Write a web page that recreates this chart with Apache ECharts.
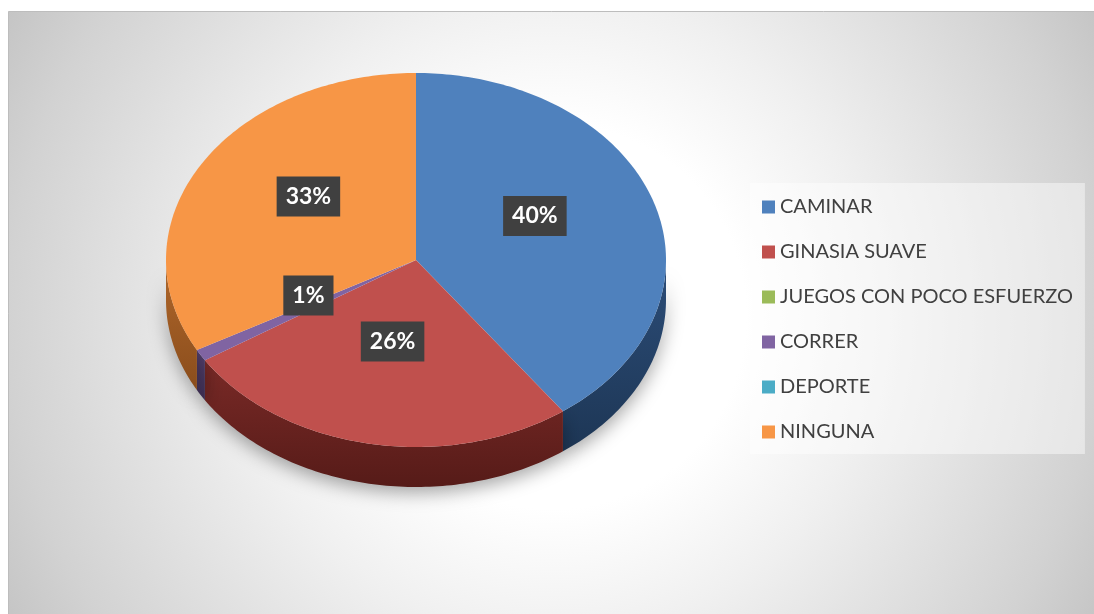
<!DOCTYPE html>
<html>
<head>
<meta charset="utf-8">
<script src="https://cdn.jsdelivr.net/npm/echarts@6/dist/echarts.min.js"></script>
<style>
  html, body { margin: 0; padding: 0; background: #fff; }
  #chart { width: 1094px; height: 614px; }
</style>
</head>
<body>
<div id="chart"></div>
<script>
var categories = ['CAMINAR', 'GINASIA SUAVE', 'JUEGOS CON POCO ESFUERZO', 'CORRER', 'DEPORTE', 'NINGUNA'];
var values = [40, 26, 0, 1, 0, 33];
var labels = ['40%', '26%', '0%', '1%', '0%', '33%'];
var colors = ['#4F81BD', '#C0504D', '#9BBB59', '#8064A2', '#4BACC6', '#F79646'];
var sideColors = [['#2c4d78', '#1d3655'], ['#7a2a27', '#561b18'], ['#5c7233', '#41521f'],
                  ['#54406e', '#3b2c4f'], ['#2e6e80', '#1f4f5c'], ['#b0672b', '#8a4d1c']];

// pie geometry (3d look)
var cx = 416, cy = 260, rx = 250, ry = 187, depth = 40;

var total = 0;
for (var i = 0; i < values.length; i++) total += values[i];
var starts = [];
var acc = 0;
for (var i = 0; i < values.length; i++) {
    starts.push(acc / total * 360);
    acc += values[i];
}

function pt(deg, dy) {
    var a = deg * Math.PI / 180;
    return [cx + rx * Math.sin(a), cy - ry * Math.cos(a) + (dy || 0)];
}

function arc(a1, a2, dy) {
    var pts = [];
    var n = Math.max(2, Math.ceil((a2 - a1) / 1));
    for (var k = 0; k <= n; k++) {
        pts.push(pt(a1 + (a2 - a1) * k / n, dy));
    }
    return pts;
}

function makeRender(idx) {
    return function (params, api) {
        var v = values[idx];
        if (!v) return { type: 'group', children: [] };
        var a1 = starts[idx];
        var a2 = a1 + v / total * 360;
        var children = [];
        // side wall, only the front half shows
        var s1 = Math.max(a1, 90), s2 = Math.min(a2, 270);
        if (s2 > s1) {
            var top = arc(s1, s2, 0);
            var bottom = arc(s1, s2, depth).reverse();
            children.push({
                type: 'polygon',
                z2: 0,
                shape: { points: top.concat(bottom) },
                style: {
                    fill: new echarts.graphic.LinearGradient(0, 0, 0, 1, [
                        { offset: 0, color: sideColors[idx][0] },
                        { offset: 1, color: sideColors[idx][1] }
                    ]),
                    shadowBlur: 18,
                    shadowColor: 'rgba(0,0,0,0.35)',
                    shadowOffsetY: 6
                }
            });
        }
        children.push({
            type: 'polygon',
            z2: 1,
            shape: { points: [[cx, cy]].concat(arc(a1, a2, 0)) },
            style: { fill: colors[idx] }
        });
        var m = (a1 + a2) / 2 * Math.PI / 180;
        children.push({
            type: 'text',
            z2: 10,
            x: cx + rx * 0.5 * Math.sin(m),
            y: cy - 14 - ry * 0.52 * Math.cos(m),
            style: {
                text: labels[idx],
                fill: '#ffffff',
                font: 'bold 23px Lato, "Open Sans", sans-serif',
                align: 'center',
                verticalAlign: 'middle',
                backgroundColor: '#404040',
                padding: [9, 9, 8, 9],
                boxShadowBlur: 5,
                boxShadowColor: 'rgba(0,0,0,0.45)',
                boxShadowOffsetX: 4,
                boxShadowOffsetY: 4
            }
        });
        return { type: 'group', children: children };
    };
}

var series = [];
for (var i = 0; i < categories.length; i++) {
    series.push({
        name: categories[i],
        type: 'custom',
        coordinateSystem: 'none',
        itemStyle: { color: colors[i] },
        renderItem: makeRender(i),
        data: [values[i]]
    });
}

var myChart = echarts.init(document.getElementById('chart'));
var option = {
    animation: false,
    graphic: [{
        type: 'rect',
        z: -10,
        silent: true,
        shape: { x: 8.5, y: 11.5, width: 1090, height: 610 },
        style: {
            fill: new echarts.graphic.RadialGradient(0.5, 0.5, 1.05, [
                { offset: 0, color: '#ffffff' },
                { offset: 0.3, color: '#ffffff' },
                { offset: 0.5, color: '#f0f0f0' },
                { offset: 0.85, color: '#d2d2d2' },
                { offset: 1, color: '#c2c2c2' }
            ]),
            stroke: '#bdbdbd',
            lineWidth: 1
        }
    }],
    legend: {
        orient: 'vertical',
        left: 750,
        top: 183,
        padding: [14, 12, 12, 12],
        backgroundColor: 'rgba(255,255,255,0.45)',
        icon: 'rect',
        itemWidth: 13,
        itemHeight: 13,
        itemGap: 25,
        selectedMode: false,
        textStyle: {
            color: '#404040',
            fontSize: 20,
            lineHeight: 20,
            fontFamily: 'Lato, "Open Sans", sans-serif'
        },
        data: categories
    },
    series: series
};
myChart.setOption(option);
</script>
</body>
</html>
